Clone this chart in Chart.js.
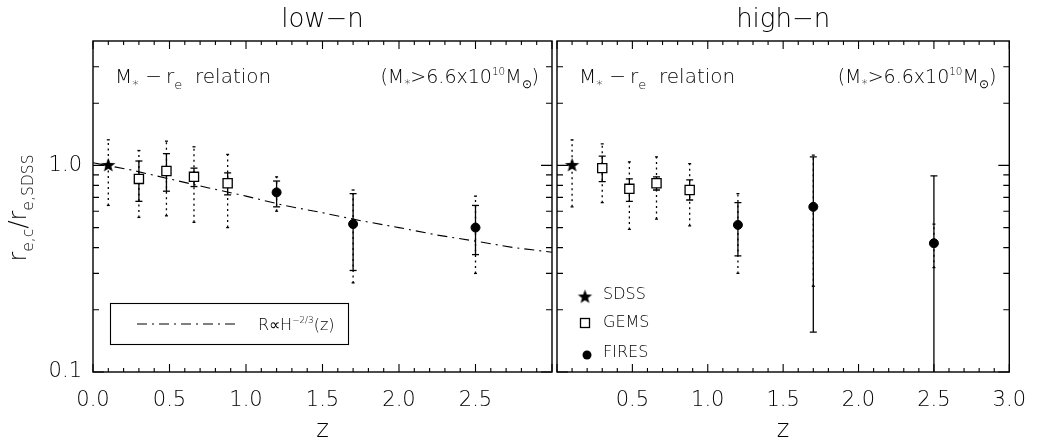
<!DOCTYPE html>
<html>
<head>
<meta charset="utf-8">
<script src="https://cdn.jsdelivr.net/npm/chart.js@4.4.0/dist/chart.umd.min.js"></script>
<style>
  html, body { margin: 0; padding: 0; background: #fff; }
  #wrap { position: relative; width: 1042px; height: 439px; overflow: hidden; }
  canvas { position: absolute; top: 0; }
  #cLow { left: 0; }
  #cHigh { left: 540px; }
</style>
</head>
<body>
<div id="wrap">
  <canvas id="cLow" width="560" height="439"></canvas>
  <canvas id="cHigh" width="502" height="439"></canvas>
</div>
<script>
// redshifts of the three samples
const sdssZ = [0.1];
const gemsZ = [0.30, 0.48, 0.66, 0.88];
const firesZ = [1.2, 1.7, 2.5];

// low-n panel: r_e,c / r_e,SDSS, solid bars and dotted (total) bars
const lowSdssR = [1.0];
const lowSdssDotLo = [0.64];
const lowSdssDotHi = [1.33];
const lowGemsR = [0.86, 0.94, 0.88, 0.82];
const lowGemsLo = [0.67, 0.75, 0.79, 0.72];
const lowGemsHi = [1.05, 1.14, 0.97, 0.92];
const lowGemsDotLo = [0.56, 0.57, 0.53, 0.50];
const lowGemsDotHi = [1.18, 1.31, 1.23, 1.13];
const lowFiresR = [0.74, 0.52, 0.50];
const lowFiresLo = [0.63, 0.31, 0.37];
const lowFiresHi = [0.84, 0.73, 0.64];
const lowFiresDotLo = [0.60, 0.27, 0.30];
const lowFiresDotHi = [0.88, 0.76, 0.71];

// high-n panel
const highSdssR = [1.0];
const highSdssDotLo = [0.63];
const highSdssDotHi = [1.33];
const highGemsR = [0.97, 0.77, 0.82, 0.76];
const highGemsLo = [0.835, 0.67, 0.76, 0.68];
const highGemsHi = [1.11, 0.86, 0.88, 0.85];
const highGemsDotLo = [0.66, 0.49, 0.55, 0.51];
const highGemsDotHi = [1.27, 1.04, 1.10, 1.02];
const highFiresR = [0.515, 0.63, 0.42];
const highFiresLo = [0.365, 0.156, 0.09];
const highFiresHi = [0.66, 1.10, 0.89];
const highFiresDotLo = [0.30, 0.26, 0.32];
const highFiresDotHi = [0.73, 1.12, 0.52];

// R ~ H^(-2/3)(z) curve
const modelZ = [0, 0.25, 0.5, 0.75, 1.0, 1.25, 1.5, 1.75, 2.0, 2.25, 2.5, 2.75, 3.0];
const modelR = [1.03, 0.95, 0.86, 0.78, 0.71, 0.64, 0.59, 0.54, 0.50, 0.46, 0.43, 0.40, 0.38];

// axis ticks
const lowXTicks = [0, 0.5, 1.0, 1.5, 2.0, 2.5];
const highXTicks = [0.5, 1.0, 1.5, 2.0, 2.5, 3.0];
const yTickLabels = [0.1, 1.0];
const yMinor = [0.2, 0.3, 0.4, 0.5, 0.6, 0.7, 0.8, 0.9, 2, 3];

const FONT = '"DejaVu Sans", "Liberation Sans", sans-serif';
const WEIGHT = 200;

// filled five-point star used as a point style
function makeStar(r) {
  const c = document.createElement('canvas');
  const s = Math.ceil(r * 2 + 2);
  c.width = c.height = s;
  const g = c.getContext('2d');
  g.beginPath();
  for (let i = 0; i < 10; i++) {
    const a = -Math.PI / 2 + i * Math.PI / 5;
    const rr = i % 2 ? r * 0.42 : r;
    g.lineTo(s / 2 + rr * Math.cos(a), s / 2 + rr * Math.sin(a));
  }
  g.closePath();
  g.fillStyle = '#000';
  g.fill();
  return c;
}
const starImg = makeStar(7.5);

function pts(z, r) {
  return z.map((v, i) => ({ x: v, y: r[i] }));
}

function barData(z, lo, hi) {
  const d = [];
  z.forEach((v, i) => {
    d.push({ x: v, y: lo[i] }, { x: v, y: hi[i] }, { x: v, y: null });
  });
  return d;
}

function barSet(data, dotted) {
  return {
    data: data,
    borderColor: '#000',
    borderWidth: 1.3,
    borderDash: dotted ? [2, 3.5] : [],
    spanGaps: false,
    pointStyle: 'line',
    pointRadius: dotted ? 1.5 : 3.5,
    pointBorderColor: '#000',
    pointBorderWidth: 1.3,
    order: 2
  };
}

function markerSets(sdssR, gemsR, firesR) {
  return [
    { data: pts(sdssZ, sdssR), showLine: false, pointStyle: starImg, pointRadius: 7, order: 0 },
    { data: pts(gemsZ, gemsR), showLine: false, pointStyle: 'rect', pointRadius: 6.5,
      pointBackgroundColor: '#fff', pointBorderColor: '#000', pointBorderWidth: 1.3, order: 0 },
    { data: pts(firesZ, firesR), showLine: false, pointStyle: 'circle', pointRadius: 4.5,
      pointBackgroundColor: '#000', pointBorderColor: '#000', pointBorderWidth: 1, order: 0 }
  ];
}

// text with sub/superscripts
function richText(ctx, parts, x, y, size, align) {
  const sizes = { n: size, sub: size * 0.65, sup: size * 0.55 };
  const shift = { n: 0, sub: size * 0.28, sup: -size * 0.42 };
  let w = 0;
  parts.forEach(([t, k]) => {
    ctx.font = `${WEIGHT} ${sizes[k]}px ${FONT}`;
    w += ctx.measureText(t).width;
  });
  let cx = align === 'right' ? x - w : align === 'center' ? x - w / 2 : x;
  ctx.textAlign = 'left';
  ctx.textBaseline = 'alphabetic';
  parts.forEach(([t, k]) => {
    ctx.font = `${WEIGHT} ${sizes[k]}px ${FONT}`;
    ctx.fillText(t, cx, y + shift[k]);
    cx += ctx.measureText(t).width;
  });
}

const relationText = [['M', 'n'], ['*\u2009', 'sub'], ['\u2009\u2212\u2009r', 'n'], ['e', 'sub'], ['  relation', 'n']];
const massText = [['(M', 'n'], ['*', 'sub'], ['>6.6x10', 'n'], ['10', 'sup'], ['M', 'n'], ['\u2299', 'sub'], [')', 'n']];

// frame, inward ticks, titles and in-panel labels
const deco = {
  id: 'deco',
  afterDraw(chart, args, opts) {
    const { ctx, chartArea: a, scales: { x, y } } = chart;
    ctx.save();
    ctx.strokeStyle = '#000';
    ctx.fillStyle = '#000';
    ctx.lineWidth = 1.4;
    ctx.setLineDash([]);
    ctx.strokeRect(a.left, a.top, a.right - a.left, a.bottom - a.top);

    ctx.lineWidth = 1.1;
    ctx.beginPath();
    for (let i = 0; i <= 30; i++) {
      const px = x.getPixelForValue(i / 10);
      const len = i % 5 === 0 ? 8 : 4;
      ctx.moveTo(px, a.bottom); ctx.lineTo(px, a.bottom - len);
      ctx.moveTo(px, a.top); ctx.lineTo(px, a.top + len);
    }
    yTickLabels.concat(yMinor).forEach(v => {
      const py = y.getPixelForValue(v);
      const len = yTickLabels.includes(v) ? 11 : 6;
      ctx.moveTo(a.left, py); ctx.lineTo(a.left + len, py);
      ctx.moveTo(a.right, py); ctx.lineTo(a.right - len, py);
    });
    ctx.stroke();

    // panel title
    ctx.font = `${WEIGHT} 26px ${FONT}`;
    ctx.textAlign = 'center';
    ctx.textBaseline = 'alphabetic';
    ctx.fillText(opts.title, (a.left + a.right) / 2, 27);

    richText(ctx, relationText, a.left + 22, 83, 20, 'left');
    richText(ctx, massText, a.right - 13, 83, 19, 'right');

    if (opts.side === 'low') {
      // y axis title
      ctx.save();
      ctx.translate(26, 208);
      ctx.rotate(-Math.PI / 2);
      richText(ctx, [['r', 'n'], ['e,c', 'sub'], ['/', 'n'], ['r', 'n'], ['e,SDSS', 'sub']], 0, 0, 24, 'center');
      ctx.restore();

      // model legend box
      ctx.lineWidth = 1.1;
      ctx.strokeRect(110.5, 303.5, 238, 41);
      ctx.beginPath();
      ctx.setLineDash([10, 5, 2, 5]);
      ctx.moveTo(137, 324); ctx.lineTo(240, 324);
      ctx.stroke();
      ctx.setLineDash([]);
      richText(ctx, [['R\u221DH', 'n'], ['\u22122/3', 'sup'], ['(z)', 'n']], 258, 330, 16, 'left');
    } else {
      // sample legend
      ctx.drawImage(starImg, 585 - 540 - starImg.width / 2, 297 - starImg.height / 2);
      ctx.lineWidth = 1.3;
      ctx.strokeRect(585 - 540 - 4.5, 323 - 4.5, 9, 9);
      ctx.beginPath();
      ctx.arc(587 - 540, 355, 4.5, 0, Math.PI * 2);
      ctx.fill();
      ctx.font = `${WEIGHT} 16px ${FONT}`;
      ctx.textAlign = 'left';
      ctx.fillText('SDSS', 603 - 540, 299);
      ctx.fillText('GEMS', 603 - 540, 327);
      ctx.fillText('FIRES', 603 - 540, 357);
    }
    ctx.restore();
  }
};

function makeChart(id, cfg) {
  return new Chart(document.getElementById(id), {
    type: 'line',
    data: { datasets: cfg.datasets },
    options: {
      responsive: false,
      animation: false,
      events: [],
      layout: { padding: { left: 0, right: cfg.padRight, top: 41, bottom: 0 } },
      plugins: {
        legend: { display: false },
        tooltip: { enabled: false },
        deco: cfg.deco
      },
      scales: {
        x: {
          type: 'linear', min: 0, max: 3,
          grid: { display: false, drawTicks: false },
          border: { display: false },
          afterBuildTicks: s => { s.ticks = cfg.xTicks.map(v => ({ value: v })); },
          afterFit: s => { s.height = 67; },
          ticks: { padding: 16, color: '#000', font: { family: FONT, size: 21, weight: WEIGHT },
                   callback: v => Number(v).toFixed(1) },
          title: { display: true, text: 'z', color: '#000',
                   font: { family: FONT, size: 24, weight: WEIGHT, lineHeight: 1 },
                   padding: { top: 0, bottom: -4 } }
        },
        y: {
          type: 'logarithmic', min: 0.1, max: 4,
          grid: { display: false, drawTicks: false },
          border: { display: false },
          afterBuildTicks: s => { s.ticks = yTickLabels.map(v => ({ value: v })); },
          afterFit: s => { s.width = cfg.yWidth; },
          ticks: { display: cfg.yLabels, padding: 11, color: '#000',
                   font: { family: FONT, size: 21, weight: WEIGHT },
                   callback: v => Number(v).toFixed(1) }
        }
      }
    },
    plugins: [deco]
  });
}

makeChart('cLow', {
  padRight: 3,
  yWidth: 93,
  yLabels: true,
  xTicks: lowXTicks,
  deco: { side: 'low', title: 'low\u2212n' },
  datasets: markerSets(lowSdssR, lowGemsR, lowFiresR).concat([
    barSet(barData(sdssZ.concat(gemsZ, firesZ),
      lowSdssDotLo.concat(lowGemsDotLo, lowFiresDotLo),
      lowSdssDotHi.concat(lowGemsDotHi, lowFiresDotHi)), true),
    barSet(barData(gemsZ.concat(firesZ), lowGemsLo.concat(lowFiresLo), lowGemsHi.concat(lowFiresHi)), false),
    { data: pts(modelZ, modelR), borderColor: '#000', borderWidth: 1.1, borderDash: [10, 5, 2, 5],
      pointRadius: 0, order: 3 }
  ])
});

makeChart('cHigh', {
  padRight: 22,
  yWidth: 17,
  yLabels: false,
  xTicks: highXTicks,
  deco: { side: 'high', title: 'high\u2212n' },
  datasets: markerSets(highSdssR, highGemsR, highFiresR).concat([
    barSet(barData(sdssZ.concat(gemsZ, firesZ),
      highSdssDotLo.concat(highGemsDotLo, highFiresDotLo),
      highSdssDotHi.concat(highGemsDotHi, highFiresDotHi)), true),
    barSet(barData(gemsZ.concat(firesZ), highGemsLo.concat(highFiresLo), highGemsHi.concat(highFiresHi)), false)
  ])
});
</script>
</body>
</html>
